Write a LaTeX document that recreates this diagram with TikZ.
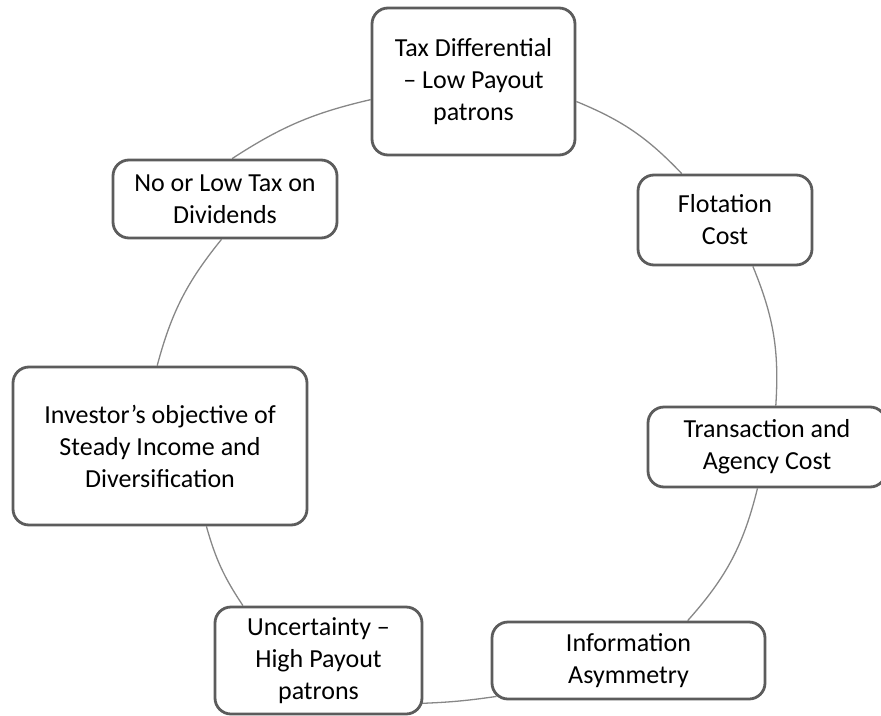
\documentclass[tikz,border=0pt]{standalone}
\usepackage{fontspec}
\setmainfont{Carlito}
\usetikzlibrary{backgrounds}
\definecolor{boxgray}{RGB}{92,92,92}
\definecolor{linkgray}{RGB}{135,135,135}
\begin{document}
\begin{tikzpicture}[x=1pt,y=-1pt,
  box/.style={draw=boxgray, line width=2.8pt, rounded corners=16pt, fill=white,
    align=center, inner sep=0pt, font=\fontsize{26}{32}\selectfont},
  link/.style={draw=linkgray, line width=1.3pt}]
\useasboundingbox (0,0) rectangle (881,715);

% the seven factors, placed round a ring
\node[box, minimum width=203pt, minimum height=147pt] (tax)   at (473.5,81.5)  {Tax Differential\\-- Low Payout\\patrons};
\node[box, minimum width=174pt, minimum height=90pt]  (flot)  at (725,220)     {Flotation\\Cost};
\node[box, minimum width=238pt, minimum height=80pt]  (trans) at (767,447)     {Transaction and\\Agency Cost};
\node[box, minimum width=273pt, minimum height=77pt]  (info)  at (628.5,660.5) {Information\\Asymmetry};
\node[box, minimum width=207pt, minimum height=107pt] (unc)   at (318.5,660.5) {Uncertainty --\\High Payout\\patrons};
\node[box, minimum width=294pt, minimum height=158pt] (inv)   at (160,446)     {Investor's objective of\\Steady Income and\\Diversification};
\node[box, minimum width=224pt, minimum height=78pt]  (nolow) at (225,199)     {No or Low Tax on\\Dividends};

% ring segments joining neighbouring boxes, drawn behind them
\begin{scope}[on background layer]
\draw[link] (tax.349.7)   to[bend left=12] (flot.133);
\draw[link] (flot.301)    to[bend left=13] (trans.78.7);
\draw[link] (trans.257.3) to[bend left=14] (info.34.3);
\draw[link] ([xshift=6pt,yshift=4pt]info.south west) to[bend left=3] ([xshift=-3pt,yshift=12pt]unc.south east);
\draw[link] (unc.144.7)   to[bend left=9] (inv.-60);
\draw[link] (inv.92)      to[bend left=12] (nolow.-95);
\draw[link] (nolow.80)    to[bend left=10] (tax.190.3);
\end{scope}
\end{tikzpicture}
\end{document}
